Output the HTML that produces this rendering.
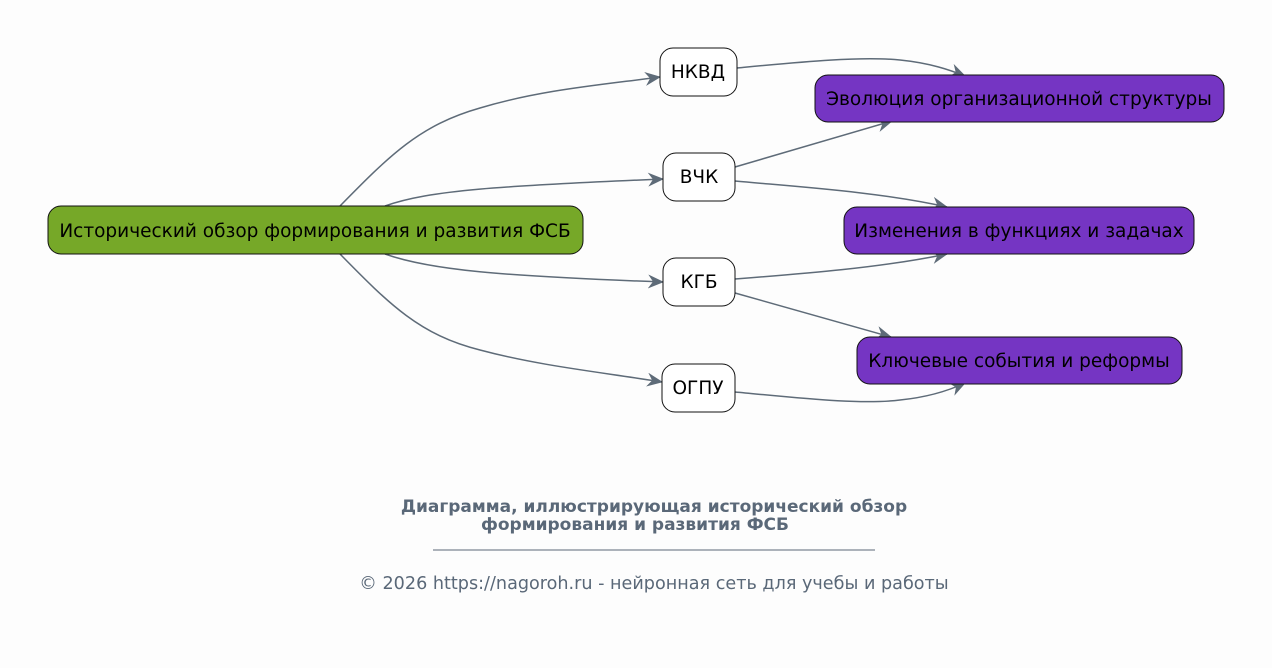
<!DOCTYPE html>
<html><head><meta charset="utf-8"><style>
html,body{margin:0;padding:0;background:#fdfdfd;}
svg{display:block;font-family:"DejaVu Sans","Liberation Sans",sans-serif;}
</style></head><body>
<svg width="1272" height="668" viewBox="0 0 1272 668" xmlns="http://www.w3.org/2000/svg">
<defs>
<marker id="a" viewBox="0 0 16 14" refX="15" refY="7" markerWidth="16" markerHeight="14" markerUnits="userSpaceOnUse" orient="auto">
<path d="M0,0 L16,7 L0,14 L5,7 z" fill="#5e6b78"/>
</marker>
</defs>
<rect width="1272" height="668" fill="#fdfdfd"/>
<g fill="none" stroke="#5e6b78" stroke-width="1.5" marker-end="url(#a)">
<path d="M340,206 C390,155 420,125 480,108 C540,90 600,85 660,77"/>
<path d="M385,206 C430,190 500,186 663,179"/>
<path d="M385,254 C430,270 500,276 663,282"/>
<path d="M340,254 C390,305 420,335 480,350 C540,366 600,372 662,382"/>
<path d="M737,68 C800,62 860,56 900,60 C930,63 950,70 965,76"/>
<path d="M735,167 L892,121"/>
<path d="M735,181 C800,187 880,192 947,207"/>
<path d="M735,279 C800,274 880,268 947,254"/>
<path d="M735,293 L891,337"/>
<path d="M735,392 C800,398 860,405 900,400 C930,397 950,390 965,383"/>
</g>
<g stroke="#111" stroke-width="1">
<rect x="48" y="206" width="535" height="48" rx="13" fill="#76a828"/>
<rect x="660" y="48" width="77" height="48" rx="13" fill="#fff"/>
<rect x="663" y="153" width="72" height="48" rx="13" fill="#fff"/>
<rect x="663" y="258" width="72" height="48" rx="13" fill="#fff"/>
<rect x="662" y="364" width="73" height="48" rx="13" fill="#fff"/>
<rect x="815" y="75" width="409" height="47" rx="13" fill="#7535c3"/>
<rect x="844" y="207" width="350" height="47" rx="13" fill="#7535c3"/>
<rect x="857" y="337" width="325" height="47" rx="13" fill="#7535c3"/>
</g>
<g font-size="18.5" fill="#000" text-anchor="middle">
<text x="315" y="237">Исторический обзор формирования и развития ФСБ</text>
<text x="698" y="78">НКВД</text>
<text x="699" y="183">ВЧК</text>
<text x="699" y="288">КГБ</text>
<text x="698" y="394">ОГПУ</text>
<text x="1019" y="105">Эволюция организационной структуры</text>
<text x="1019" y="237">Изменения в функциях и задачах</text>
<text x="1019" y="367">Ключевые события и реформы</text>
</g>
<g fill="#5a6878" text-anchor="middle">
<text x="654" y="512" font-size="17" font-weight="bold">Диаграмма, иллюстрирующая исторический обзор</text>
<text x="635" y="530" font-size="17" font-weight="bold">формирования и развития ФСБ</text>
<line x1="433" y1="550" x2="875" y2="550" stroke="#5a6878" stroke-width="1"/>
<text x="654" y="589" font-size="17.6">© 2026 https://nagoroh.ru - нейронная сеть для учебы и работы</text>
</g>
</svg>
</body></html>
